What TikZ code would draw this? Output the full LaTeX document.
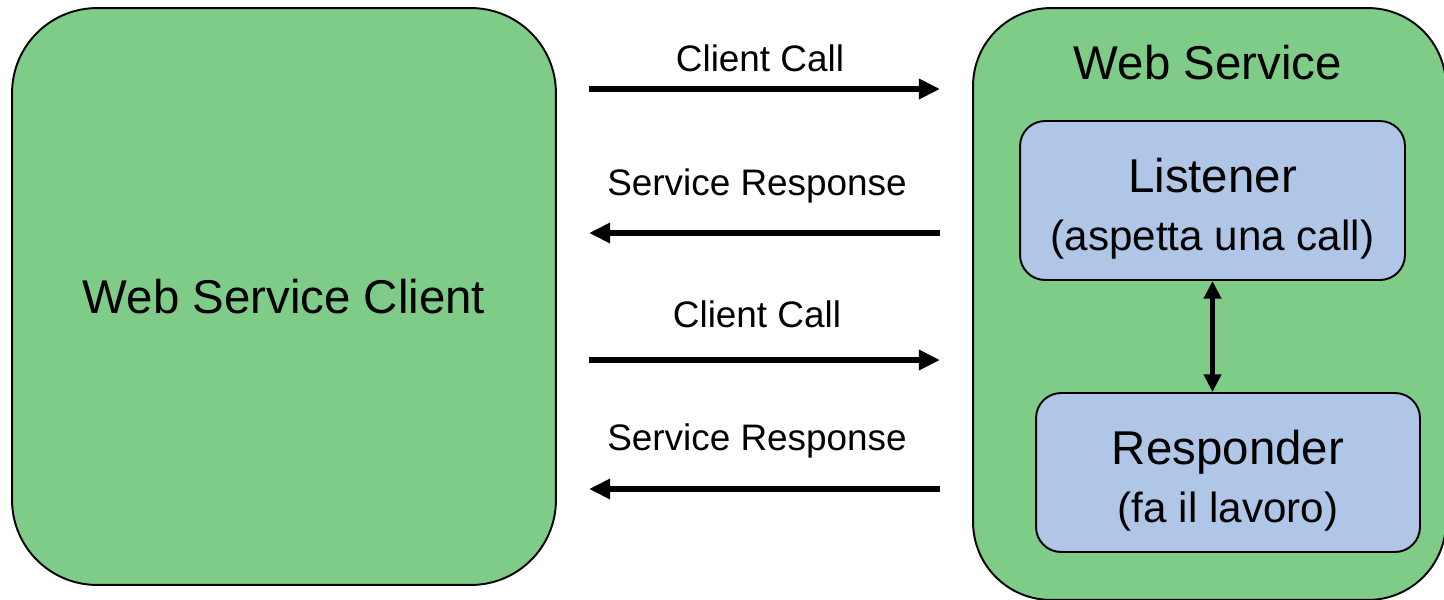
\documentclass[tikz,border=0pt]{standalone}
\usepackage{fontspec}
\setmainfont{Liberation Sans}
\usetikzlibrary{arrows.meta}

\definecolor{boxgreen}{RGB}{127,204,136}
\definecolor{boxblue}{RGB}{175,198,230}

\begin{document}
\begin{tikzpicture}[
		x=0.02cm,y=-0.02cm,
		semithick,
		>={Triangle[length=12pt,width=11pt]},
		big/.style={font=\fontsize{27}{32}\selectfont},
		small/.style={font=\fontsize{21}{25}\selectfont},
		outer/.style={draw,line width=1.1pt,fill=boxgreen,rounded corners=1.7cm,inner sep=0pt},
		inner/.style={draw,line width=1.1pt,fill=boxblue,rounded corners=0.5cm,align=center,
			font=\fontsize{24}{33}\selectfont,text depth=0pt,
			minimum width=7.7cm,minimum height=3.18cm,inner sep=0pt},
		msg/.style={->,line width=3.4pt}
		]
		\useasboundingbox (0,0) rectangle (1444,599);
		\node[outer,big,minimum width=10.88cm,minimum height=11.54cm](client) at (284,296.5){Web Service Client};
		\node[outer,rounded corners=1.56cm,minimum width=9.46cm,minimum height=11.84cm](ws) at (1209.5,304){};
		\node[big](wstitle) at (1208,63){Web Service};
		\node[inner](listener) at (1212.5,200.5){\rule{0pt}{24pt}\fontsize{27}{33}\selectfont Listener\\\fontsize{24}{33}\selectfont (aspetta una call)};
		\node[inner,minimum width=7.68cm](responder) at (1228,472.5){\rule{0pt}{24pt}\fontsize{27}{33}\selectfont Responder\\\fontsize{24}{33}\selectfont (fa il lavoro)};
		
		\coordinate (a1) at (589,89);  \coordinate (b1) at (940,89);
		\coordinate (a2) at (589,233); \coordinate (b2) at (940,233);
		\coordinate (a3) at (589,360); \coordinate (b3) at (940,360);
		\coordinate (a4) at (589,489); \coordinate (b4) at (940,489);
		
		\node[small](call1) at (760,58){Client Call};
		\node[small](resp1) at (757,186){Service Response};
		\node[small](call2) at (757,314){Client Call};
		\node[small](resp2) at (757,441){Service Response};
		
		\draw[msg] (a1) -- (b1);
		\draw[msg] (b2) -- (a2);
		\draw[msg] (a3) -- (b3);
		\draw[msg] (b4) -- (a4);
		\draw[<->,line width=2.6pt,>={Triangle[length=10pt,width=9.5pt]}] (listener.south) -- (listener.south |- responder.north);
		
		\end{tikzpicture}
\end{document}
